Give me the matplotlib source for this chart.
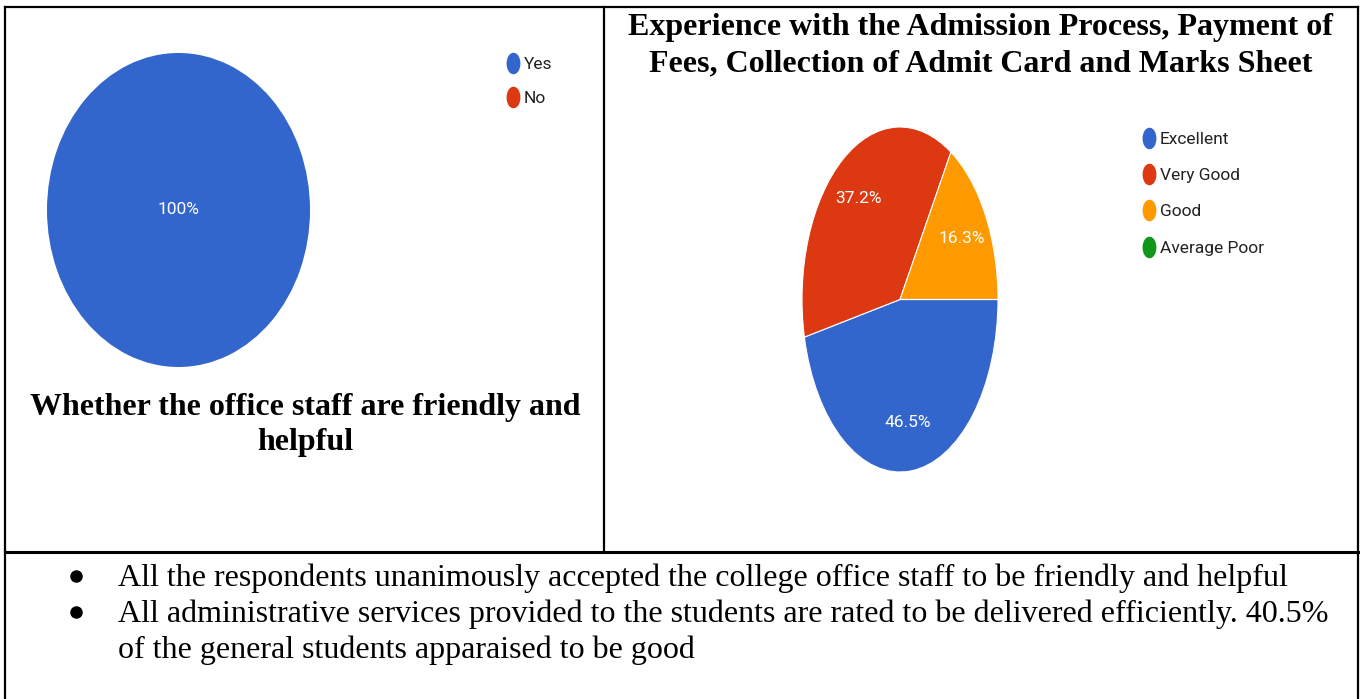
import matplotlib
matplotlib.use("Agg")
import matplotlib.pyplot as plt
from matplotlib.lines import Line2D
from matplotlib.path import Path
from matplotlib.transforms import Affine2D

# ---------------- data ----------------
left_labels = ["Yes", "No"]
left_values = [100, 0]
left_title = "Whether the office staff are friendly and\nhelpful"

right_labels = ["Excellent", "Very Good", "Good", "Average Poor"]
right_values = [46.5, 37.2, 16.3, 0.0]
right_title = "Experience with the Admission Process, Payment of\nFees, Collection of Admit Card and Marks Sheet"

colors = ["#3366CC", "#DC3912", "#FF9900", "#109618"]

bullets = [
    "All the respondents unanimously accepted the college office staff to be friendly and helpful",
    "All administrative services provided to the students are rated to be delivered efficiently. 40.5%\nof the general students apparaised to be good",
]

# ---------------- figure ----------------
W, H = 1364, 699
fig = plt.figure(figsize=(W / 100, H / 100), dpi=100)
fig.patch.set_facecolor("white")


def fx(x):
    return x / W


def fy(y):
    return 1 - y / H


sans = ["Roboto", "DejaVu Sans"]
serif = ["Liberation Serif", "DejaVu Serif"]

# table borders
lw = 1.6
border = [((5, 7), (1358, 7)), ((5, 7), (5, 699)), ((1358, 7), (1358, 699)),
          ((604, 7), (604, 552)), ((5, 552), (1358, 552))]
for (x0, y0), (x1, y1) in border:
    fig.add_artist(Line2D([fx(x0), fx(x1)], [fy(y0), fy(y1)], color="black",
                          lw=2.2 if y0 == 552 and y1 == 552 else lw,
                          transform=fig.transFigure))


def pct_fmt(p):
    return "" if p < 0.05 else f"{p:.1f}%"


def pct_int(p):
    return "" if p < 0.05 else f"{p:.0f}%"


# ellipse marker for legend
ell = Path.unit_circle().transformed(Affine2D().scale(0.62, 1.0))


def make_handles(cols):
    return [Line2D([], [], ls="none", marker=ell, markersize=14.5,
                   markerfacecolor=c, markeredgecolor=c) for c in cols]


# ---------------- left pie ----------------
ax1 = fig.add_axes([fx(47), fy(367), fx(310) - fx(47), fy(53) - fy(367)])
w1, t1, a1 = ax1.pie(left_values, colors=colors[:2], startangle=0, counterclock=False,
                     autopct=pct_int, pctdistance=0.0,
                     wedgeprops=dict(linewidth=0),
                     textprops=dict(color="white", fontsize=12.5, family=sans))
ax1.set_aspect("auto")
ax1.set_xlim(-1.0, 1.0)
ax1.set_ylim(-1.0, 1.0)

fig.legend(make_handles(colors[:2]), left_labels, loc="upper left",
           bbox_to_anchor=(fx(504), fy(57)), frameon=False,
           prop=dict(family=sans, size=12.5), labelcolor="#222222",
           handletextpad=0.15, labelspacing=1.1, handlelength=1.0,
           borderpad=0, borderaxespad=0)

for i, line in enumerate(left_title.split("\n")):
    fig.text(fx(305), fy(407 + 35 * i), line, ha="center", va="center",
             family=serif, weight="bold", fontsize=23)

# ---------------- right pie ----------------
ax2 = fig.add_axes([fx(802), fy(472), fx(998) - fx(802), fy(127) - fy(472)])
w2, t2, a2 = ax2.pie(right_values, colors=colors, startangle=0, counterclock=False,
                     autopct=pct_fmt, pctdistance=0.72,
                     wedgeprops=dict(edgecolor="white", linewidth=0.8),
                     textprops=dict(color="white", fontsize=12.5, family=sans))
ax2.set_aspect("auto")
ax2.set_xlim(-1.0, 1.0)
ax2.set_ylim(-1.0, 1.0)

fig.legend(make_handles(colors), right_labels, loc="upper left",
           bbox_to_anchor=(fx(1140), fy(131.5)), frameon=False,
           prop=dict(family=sans, size=12.5), labelcolor="#222222",
           handletextpad=0.15, labelspacing=1.22, handlelength=1.0,
           borderpad=0, borderaxespad=0)

for i, line in enumerate(right_title.split("\n")):
    fig.text(fx(981), fy(28 + 36 * i), line, ha="center", va="center",
             family=serif, weight="bold", fontsize=23)

# ---------------- bullets ----------------
y = 578
for b in bullets:
    lines = b.split("\n")
    fig.add_artist(Line2D([fx(76)], [fy(y - 2)], ls="none", marker="o", markersize=8,
                          color="black", transform=fig.transFigure))
    for ln in lines:
        fig.text(fx(118), fy(y), ln, ha="left", va="center", family=serif, fontsize=23)
        y += 36

fig.savefig("out.png", dpi=100, facecolor="white")
